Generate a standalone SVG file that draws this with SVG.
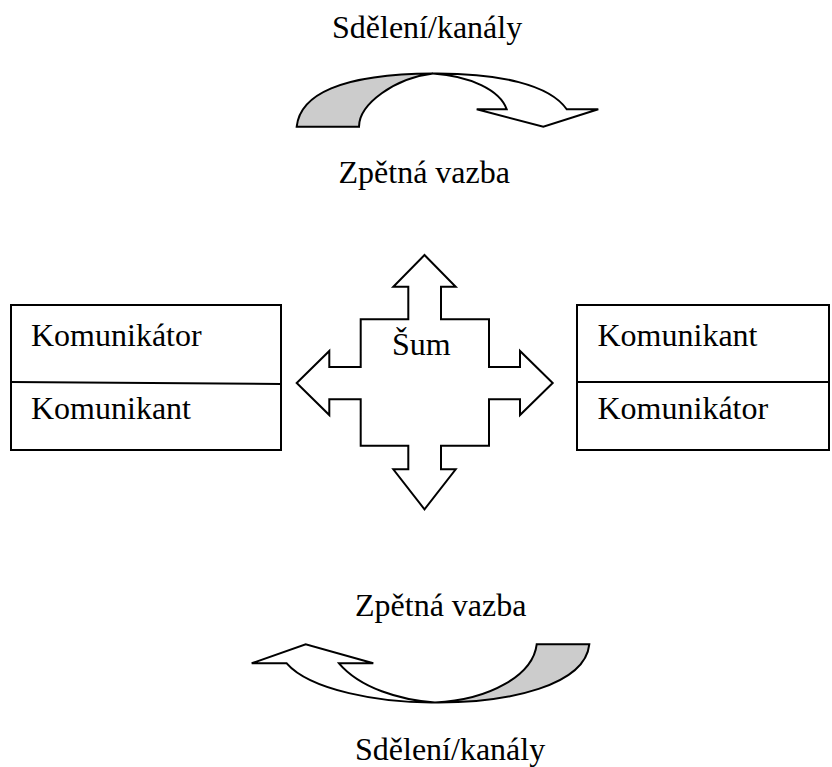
<svg xmlns="http://www.w3.org/2000/svg" width="832" height="767" viewBox="0 0 832 767">
<style>
.t{font-family:"Liberation Serif","Times New Roman",serif;font-size:32px;fill:#000}
.box{fill:#fff;stroke:#000;stroke-width:2}
.ln{stroke:#000;stroke-width:2;fill:none}
.wa{fill:#fff;stroke:#000;stroke-width:2;stroke-linejoin:miter}
.ga{fill:#cccccc;stroke:#000;stroke-width:2;stroke-linejoin:miter}
</style>
<rect width="832" height="767" fill="#fff"/>
<g id="connectors">
  <g id="top-arrow">
    <path class="ga" d="M296.7,126.7 C300,95 340,74 433,73.5 C395,78 359,104 359,126.7 Z"/>
    <path class="wa" d="M433,73.5 C500,73 550,85 566.7,109.3 L598.3,109.3 L543.3,126.7 L476.7,109.3 L506.7,109.3 C500,90 470,76 433,73.5 Z"/>
  </g>
  <g id="bottom-arrow">
    <path class="ga" d="M589.3,644.3 L536.7,644.3 C533,675 490,700 435,702.5 C510,703 585,685 589.3,644.3 Z"/>
    <path class="wa" d="M435,702.5 C380,703 310,690 286.7,663.3 L251.7,663.3 L305.7,644.3 L373.3,663.3 L339,663.3 C360,688 400,700 435,702.5 Z"/>
  </g>
</g>
<g id="label-top-1"><text class="t" x="332" y="38">Sdělení/kanály</text></g>
<g id="label-top-2"><text class="t" x="338.5" y="183.3">Zpětná vazba</text></g>
<g id="label-bottom-1"><text class="t" x="355" y="616">Zpětná vazba</text></g>
<g id="label-bottom-2"><text class="t" x="355" y="759.5">Sdělení/kanály</text></g>
<g id="left-box">
  <rect class="box" x="11" y="305" width="270" height="145"/>
  <line class="ln" x1="11" y1="382" x2="281" y2="384"/>
  <text class="t" x="31" y="345.7">Komunikátor</text>
  <text class="t" x="31" y="419.3">Komunikant</text>
</g>
<g id="right-box">
  <rect class="box" x="577" y="305" width="252" height="145"/>
  <line class="ln" x1="577" y1="382" x2="829" y2="382"/>
  <text class="t" x="597.5" y="345.7">Komunikant</text>
  <text class="t" x="597.5" y="419">Komunikátor</text>
</g>
<g id="sum">
  <path class="wa" stroke-width="1.8" d="M424.5,255 L455.7,286.7 L441,286.7 L441,319.3 L489,319.3 L489,367 L520,367 L520,351 L552.7,383 L520,415 L520,399.3 L489,399.3 L489,445.7 L441,445.7 L441,469.3 L455.7,469.3 L424.5,509.3 L393.3,469.3 L408.3,469.3 L408.3,445.7 L360.7,445.7 L360.7,399.3 L329.3,399.3 L329.3,415 L296.7,383 L329.3,351 L329.3,367 L360.7,367 L360.7,319.3 L408.3,319.3 L408.3,286.7 L393.3,286.7 Z"/>
  <text class="t" x="392" y="355">Šum</text>
</g>
</svg>
